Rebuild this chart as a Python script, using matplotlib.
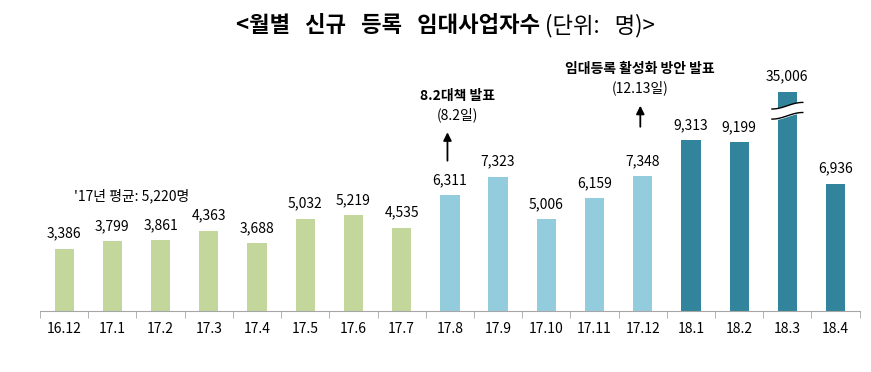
import numpy as np
import matplotlib.pyplot as plt

plt.rcParams['font.family'] = ['Noto Sans CJK KR', 'DejaVu Sans']

# 월별 신규 등록 임대사업자수
months = ['16.12', '17.1', '17.2', '17.3', '17.4', '17.5', '17.6', '17.7', '17.8',
          '17.9', '17.10', '17.11', '17.12', '18.1', '18.2', '18.3', '18.4']
counts = [3386, 3799, 3861, 4363, 3688, 5032, 5219, 4535, 6311,
          7323, 5006, 6159, 7348, 9313, 9199, 35006, 6936]
groups = ['g'] * 8 + ['lb'] * 5 + ['dk'] * 4
group_colors = {'g': '#C3D69B', 'lb': '#93CDDD', 'dk': '#31849B'}

# 축이 끊긴 막대(18.3)는 이 높이까지만 그림
cap = 11950

fig = plt.figure(figsize=(8.71, 3.72), dpi=100)
ax = fig.add_axes([0.046, 0.164, 0.941, 0.675])

x = np.arange(len(months))
heights = [min(c, cap) for c in counts]
colors = [group_colors[g] for g in groups]
ax.bar(x, heights, width=0.4, color=colors, zorder=2)

for xi, h, c in zip(x, heights, counts):
    ax.text(xi, h + 450, f'{c:,}', ha='center', va='bottom', fontsize=10)

# 물결 모양 축 끊김 표시
ib = months.index('18.3')
xs = np.linspace(ib - 0.32, ib + 0.32, 50)
wave = 180 * np.sin((xs - ib) / 0.32 * np.pi / 2)
y_lo = 10650 + wave
y_hi = 11200 + wave
ax.fill_between(xs, y_lo, y_hi, color='white', zorder=3)
ax.plot(xs, y_lo, color='black', lw=1, zorder=4)
ax.plot(xs, y_hi, color='black', lw=1, zorder=4)

ax.set_xlim(-0.5, len(months) - 0.5)
ax.set_ylim(0, 13700)
ax.set_yticks([])
for s in ['left', 'right', 'top']:
    ax.spines[s].set_visible(False)
ax.spines['bottom'].set_color('#A6A6A6')

ax.set_xticks(x, months, fontsize=10)
ax.tick_params(axis='x', which='major', length=0, pad=8)
ax.set_xticks(np.arange(-0.5, len(months)), minor=True)
ax.tick_params(axis='x', which='minor', length=5, color='#A6A6A6')

# 주석
ax.text(0.2, 6250, "'17년 평균: 5,220명", fontsize=10, ha='left', va='center')

arrow = dict(arrowstyle='-|>', color='black', lw=1.3, mutation_scale=12,
             shrinkA=0, shrinkB=0)

i8 = months.index('17.8')
ax.text(i8 + 0.15, 11750, '8.2대책 발표', fontsize=10, fontweight='bold', ha='center', va='center')
ax.text(i8 + 0.15, 10700, '(8.2일)', fontsize=10, ha='center', va='center')
ax.annotate('', xy=(i8 - 0.05, 9750), xytext=(i8 - 0.05, 8200), arrowprops=arrow)

i12 = months.index('17.12')
ax.text(i12 - 0.05, 13200, '임대등록 활성화 방안 발표', fontsize=10, fontweight='bold', ha='center', va='center')
ax.text(i12 - 0.05, 12200, '(12.13일)', fontsize=10, ha='center', va='center')
ax.annotate('', xy=(i12 - 0.05, 11200), xytext=(i12 - 0.05, 10050), arrowprops=arrow)

fig.text(0.620, 0.932, '<월별   신규   등록   임대사업자수', fontsize=16, fontweight='bold', ha='right', va='center')
fig.text(0.626, 0.932, '(단위:   명)>', fontsize=16, ha='left', va='center')

fig.savefig('out.png', dpi=100)
